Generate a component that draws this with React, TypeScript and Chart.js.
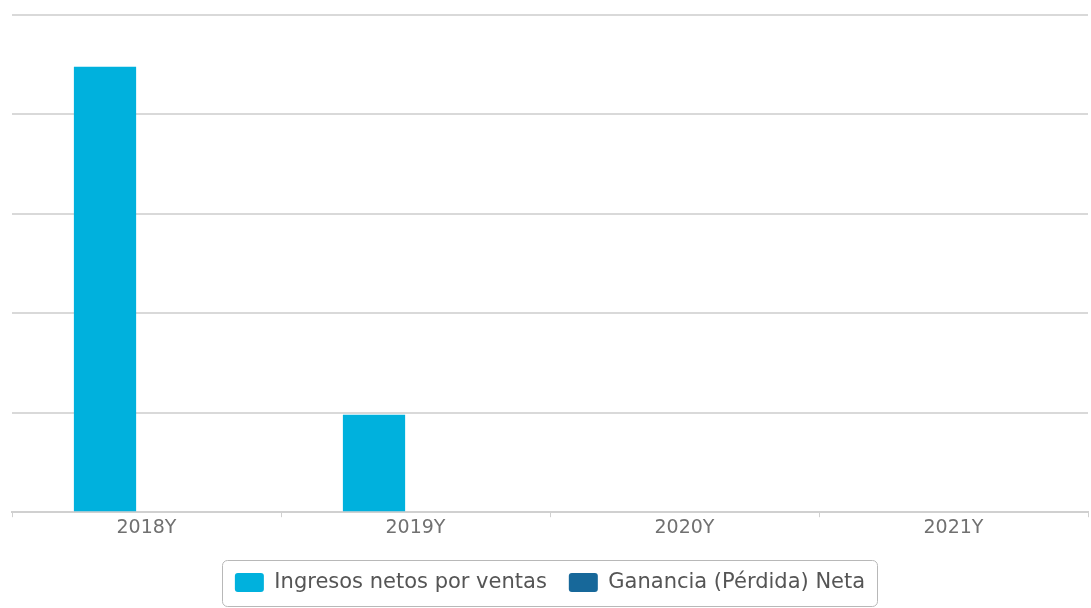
import React, { useEffect, useRef } from "react";
import { Chart, registerables } from "chart.js";

Chart.register(...registerables);

const categories = ["2018Y", "2019Y", "2020Y", "2021Y"];
const ingresosNetos = [4.48, 0.98, 0, 0];
const gananciaNeta = [0, 0, 0, 0];
const seriesLabels = ["Ingresos netos por ventas", "Ganancia (Pérdida) Neta"];
const seriesColors = ["#00B1DD", "#17689A"];
const yMin = 0;
const yMax = 5;
const yStep = 1;

const legendBorder = {
  id: "legendBorder",
  afterDraw(chart: any) {
    const lg = chart.legend;
    if (!lg || !lg.legendHitBoxes || !lg.legendHitBoxes.length) return;
    const boxes = lg.legendHitBoxes;
    const left = Math.min(...boxes.map((b: any) => b.left)) - 13;
    const right = Math.max(...boxes.map((b: any) => b.left + b.width)) + 12;
    const cy = boxes[0].top + boxes[0].height / 2;
    const top = cy - 23;
    const bottom = cy + 23;
    const ctx = chart.ctx;
    ctx.save();
    ctx.strokeStyle = "#b8b8b8";
    ctx.lineWidth = 1;
    ctx.beginPath();
    (ctx as any).roundRect(Math.round(left) + 0.5, Math.round(top) + 0.5, Math.round(right - left), Math.round(bottom - top), 5);
    ctx.stroke();
    ctx.restore();
  },
};

export default function App() {
  const ref = useRef<HTMLCanvasElement>(null);
  useEffect(() => {
    document.body.style.margin = "0";
    const chart = new Chart(ref.current!, {
      type: "bar",
      data: {
        labels: categories,
        datasets: [
          {
            label: seriesLabels[0],
            data: ingresosNetos,
            backgroundColor: seriesColors[0],
            borderWidth: 0,
            categoryPercentage: 0.617,
            barPercentage: 0.75,
          },
          {
            label: seriesLabels[1],
            data: gananciaNeta,
            backgroundColor: seriesColors[1],
            borderWidth: 0,
            categoryPercentage: 0.617,
            barPercentage: 0.75,
          },
        ],
      },
      options: {
        animation: false,
        responsive: true,
        maintainAspectRatio: false,
        layout: { padding: { left: 12, right: 3, top: 15, bottom: 5 } },
        scales: {
          x: {
            grid: { display: true, drawOnChartArea: false, drawTicks: true, tickLength: 5, color: "#d0d0d0" },
            border: { display: true, color: "#d0d0d0", width: 2 },
            ticks: { color: "#707070", font: { family: "DejaVu Sans", size: 19 }, padding: -1 },
            afterFit: (scale: any) => {
              scale.height += 12;
            },
          },
          y: {
            min: yMin,
            max: yMax,
            ticks: { display: false, stepSize: yStep },
            grid: { color: "#d9d9d9", lineWidth: 2, drawTicks: false },
            border: { display: false },
          },
        },
        plugins: {
          legend: {
            display: true,
            position: "bottom",
            labels: {
              color: "#555",
              font: { family: "DejaVu Sans", size: 21 },
              boxWidth: 29,
              boxHeight: 19,
              useBorderRadius: true,
              borderRadius: 3,
              padding: 22,
            },
          },
          tooltip: { enabled: false },
        },
      },
      plugins: [legendBorder],
    });
    return () => chart.destroy();
  }, []);
  return (
    <div style={{ position: "absolute", left: 0, top: 0, width: 1091, height: 608, background: "#fff" }}>
      <canvas ref={ref} />
    </div>
  );
}
